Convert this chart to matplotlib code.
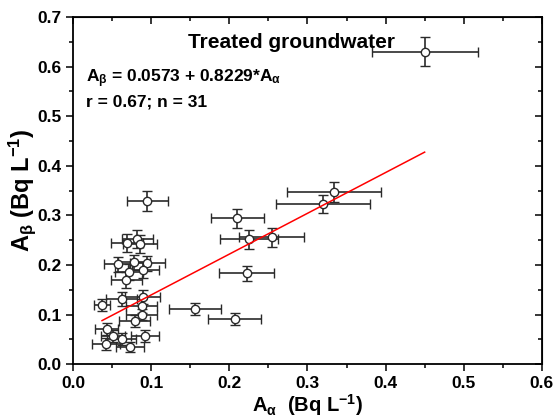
import matplotlib.pyplot as plt
from matplotlib.ticker import MultipleLocator

plt.rcParams['font.family'] = ['Liberation Sans', 'DejaVu Sans']
plt.rcParams['font.weight'] = 'bold'
plt.rcParams['mathtext.fontset'] = 'custom'
plt.rcParams['mathtext.rm'] = 'Liberation Sans:bold'
plt.rcParams['mathtext.it'] = 'Liberation Sans:bold'
plt.rcParams['mathtext.bf'] = 'Liberation Sans:bold'
plt.rcParams['mathtext.default'] = 'regular'

# gross alpha / gross beta activities (Bq/L) with uncertainties
a_alpha = [0.450, 0.334, 0.320, 0.210, 0.225, 0.254, 0.222, 0.156, 0.207, 0.095,
           0.069, 0.082, 0.086, 0.058, 0.095, 0.090, 0.068, 0.062, 0.037, 0.089,
           0.088, 0.079, 0.043, 0.042, 0.062, 0.073, 0.092, 0.051, 0.088, 0.078,
           0.072]
a_beta = [0.630, 0.347, 0.323, 0.294, 0.252, 0.256, 0.183, 0.111, 0.091, 0.329,
          0.244, 0.252, 0.243, 0.201, 0.203, 0.190, 0.169, 0.132, 0.120, 0.136,
          0.100, 0.087, 0.070, 0.040, 0.050, 0.034, 0.056, 0.057, 0.118, 0.205,
          0.185]
err_alpha = [0.068, 0.060, 0.060, 0.034, 0.037, 0.042, 0.035, 0.033, 0.034, 0.026,
             0.020, 0.020, 0.022, 0.018, 0.022, 0.020, 0.020, 0.020, 0.010, 0.022,
             0.020, 0.020, 0.015, 0.018, 0.018, 0.018, 0.018, 0.015, 0.020, 0.020,
             0.018]
err_beta = [0.029, 0.020, 0.019, 0.019, 0.019, 0.019, 0.015, 0.012, 0.012, 0.020,
            0.018, 0.018, 0.018, 0.016, 0.016, 0.016, 0.016, 0.014, 0.012, 0.014,
            0.012, 0.012, 0.012, 0.012, 0.012, 0.010, 0.012, 0.012, 0.014, 0.016,
            0.016]

intercept = 0.0573
slope = 0.8229

fig = plt.figure(figsize=(5.54, 4.18), dpi=100)
ax = fig.add_axes([0.132, 0.129, 0.846, 0.830])

ax.errorbar(a_alpha, a_beta, xerr=err_alpha, yerr=err_beta, fmt='o',
            color='#2a2a2a', ecolor='#2a2a2a', elinewidth=1.2, capsize=3.5,
            capthick=1.2, markersize=6, markerfacecolor='white',
            markeredgecolor='#2a2a2a', markeredgewidth=1, zorder=3)

x0, x1 = min(a_alpha), max(a_alpha)
ax.plot([x0, x1], [intercept + slope * x0, intercept + slope * x1],
        color='red', lw=1.1, zorder=4)

ax.set_xlim(0, 0.6)
ax.set_ylim(0, 0.7)
ax.xaxis.set_major_locator(MultipleLocator(0.1))
ax.xaxis.set_minor_locator(MultipleLocator(0.05))
ax.yaxis.set_major_locator(MultipleLocator(0.1))
ax.yaxis.set_minor_locator(MultipleLocator(0.05))
ax.tick_params(which='major', direction='out', length=5, width=1.1, labelsize=12.5)
ax.tick_params(which='minor', direction='out', length=3, width=1.1)
for lbl in ax.get_xticklabels() + ax.get_yticklabels():
    lbl.set_fontweight('bold')

# mirrored axes with inward ticks (Origin style)
top = ax.secondary_xaxis('top')
top.xaxis.set_major_locator(MultipleLocator(0.1))
top.xaxis.set_minor_locator(MultipleLocator(0.05))
top.tick_params(which='major', direction='in', length=5, width=1.1, labeltop=False)
top.tick_params(which='minor', direction='in', length=3, width=1.1)
right = ax.secondary_yaxis('right')
right.yaxis.set_major_locator(MultipleLocator(0.1))
right.yaxis.set_minor_locator(MultipleLocator(0.05))
right.tick_params(which='major', direction='in', length=5, width=1.1, labelright=False)
right.tick_params(which='minor', direction='in', length=3, width=1.1)

for s in ax.spines.values():
    s.set_linewidth(1.3)

ax.set_xlabel(r'A$_{\alpha}$  (Bq L$^{-1}$)', fontsize=14.5, fontweight='bold', labelpad=1)
ax.set_ylabel(r'A$_{\beta}$ (Bq L$^{-1}$)', fontsize=17, fontweight='bold', labelpad=-1)

ax.text(0.279, 0.648, 'Treated groundwater', fontsize=15, fontweight='bold',
        ha='center', va='center')
ax.text(0.017, 0.575, r'A$_{\beta}$ = 0.0573 + 0.8229*A$_{\alpha}$', fontsize=12.5,
        fontweight='bold', ha='left', va='center')
ax.text(0.017, 0.528, 'r = 0.67; n = 31', fontsize=12.5, fontweight='bold',
        ha='left', va='center')

fig.savefig('out.png', dpi=100)
